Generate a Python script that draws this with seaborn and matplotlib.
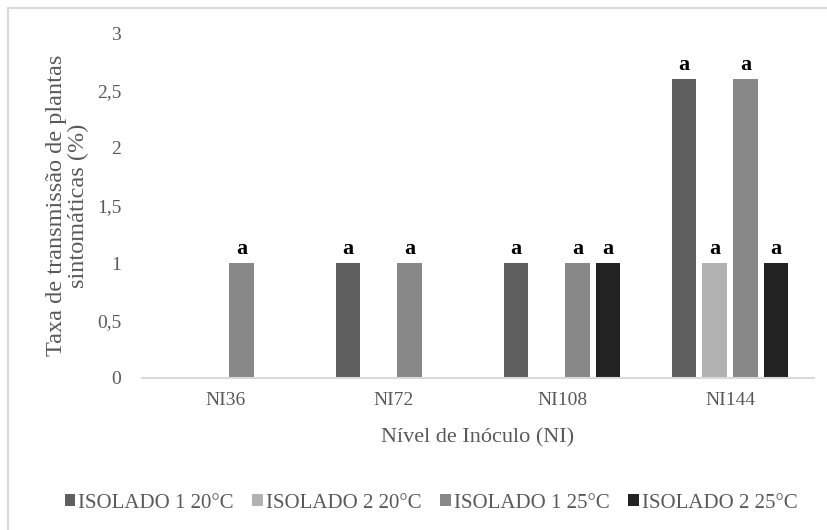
import matplotlib
matplotlib.use("Agg")
import matplotlib.pyplot as plt
from matplotlib.patches import Rectangle
import seaborn as sns
import pandas as pd

# Data: transmission rate per inoculum level and isolate/temperature
niveis = ["NI36", "NI72", "NI108", "NI144"]
isolados = ["ISOLADO 1 20°C", "ISOLADO 2 20°C", "ISOLADO 1 25°C", "ISOLADO 2 25°C"]
iso1_20 = [0, 1, 1, 2.6]
iso2_20 = [0, 0, 0, 1]
iso1_25 = [1, 1, 1, 2.6]
iso2_25 = [0, 0, 1, 1]
letras = ["a", "a", "a", "a"]
cores = ["#5f5f5f", "#b2b2b2", "#888888", "#222222"]
yticks = [0, 0.5, 1, 1.5, 2, 2.5, 3]
ytick_labels = ["0", "0,5", "1", "1,5", "2", "2,5", "3"]

series = [iso1_20, iso2_20, iso1_25, iso2_25]
rows = []
for iso, vals in zip(isolados, series):
    for nv, v in zip(niveis, vals):
        rows.append({"nivel": nv, "isolado": iso, "taxa": v})
df = pd.DataFrame(rows)

sns.set_theme(style="white")
plt.rcParams["font.serif"] = ["Liberation Serif", "DejaVu Serif"]
plt.rcParams["font.family"] = ["serif"]
FAM = ["Liberation Serif", "DejaVu Serif"]
txt = "#595959"

fig = plt.figure(figsize=(8.27, 5.30), dpi=100)
ax = fig.add_axes([142 / 827, 1 - 378 / 530, 672 / 827, 345 / 530])

sns.barplot(data=df, x="nivel", y="taxa", hue="isolado", order=niveis,
            hue_order=isolados, palette=cores, width=0.73, gap=0.2,
            errorbar=None, linewidth=0, saturation=1, ax=ax)

# significance letters above each visible bar
for cont in ax.containers:
    for bar in cont:
        h = bar.get_height()
        if h > 0:
            ax.annotate(letras[0], (bar.get_x() + bar.get_width() / 2, h),
                        xytext=(0, 3), textcoords="offset points",
                        ha="center", va="bottom", fontsize=16, family=FAM,
                        fontweight="bold", color="black")

ax.set_ylim(0, 3)
ax.set_xlim(-0.5, 3.5)
ax.set_yticks(yticks)
ax.set_yticklabels(ytick_labels)
ax.tick_params(axis="y", length=0, pad=15, labelsize=14, labelcolor=txt)
ax.tick_params(axis="x", length=0, pad=10, labelsize=14, labelcolor=txt)
for lab in ax.get_xticklabels() + ax.get_yticklabels():
    lab.set_fontfamily(FAM)
for s in ["top", "right", "left"]:
    ax.spines[s].set_visible(False)
ax.spines["bottom"].set_color("#d9d9d9")
ax.spines["bottom"].set_linewidth(1.5)

ax.set_xlabel("Nível de Inóculo (NI)", fontsize=16, color=txt, labelpad=14,
              family=FAM)
ax.set_ylabel("Taxa de transmissão de plantas\nsintomáticas (%)", fontsize=17.5,
              color=txt, linespacing=1.05, family=FAM)
ax.yaxis.set_label_coords(-0.079, 0.5)

handles, labels = ax.get_legend_handles_labels()
ax.get_legend().remove()
leg = fig.legend(handles, labels, loc="center",
                 bbox_to_anchor=(431 / 827, 1 - 503 / 530),
                 ncol=4, frameon=False, handlelength=0.5,
                 handleheight=0.5, handletextpad=0.15, columnspacing=0.9,
                 labelcolor=txt, prop={"family": FAM, "size": 15})

# outer chart frame
fig.patches.append(Rectangle((8 / 827, -0.1), 1.2, (1 - 8 / 530) + 0.1,
                             transform=fig.transFigure, fill=False,
                             edgecolor="#d9d9d9", linewidth=1.5))

fig.savefig("out.png", dpi=100)
